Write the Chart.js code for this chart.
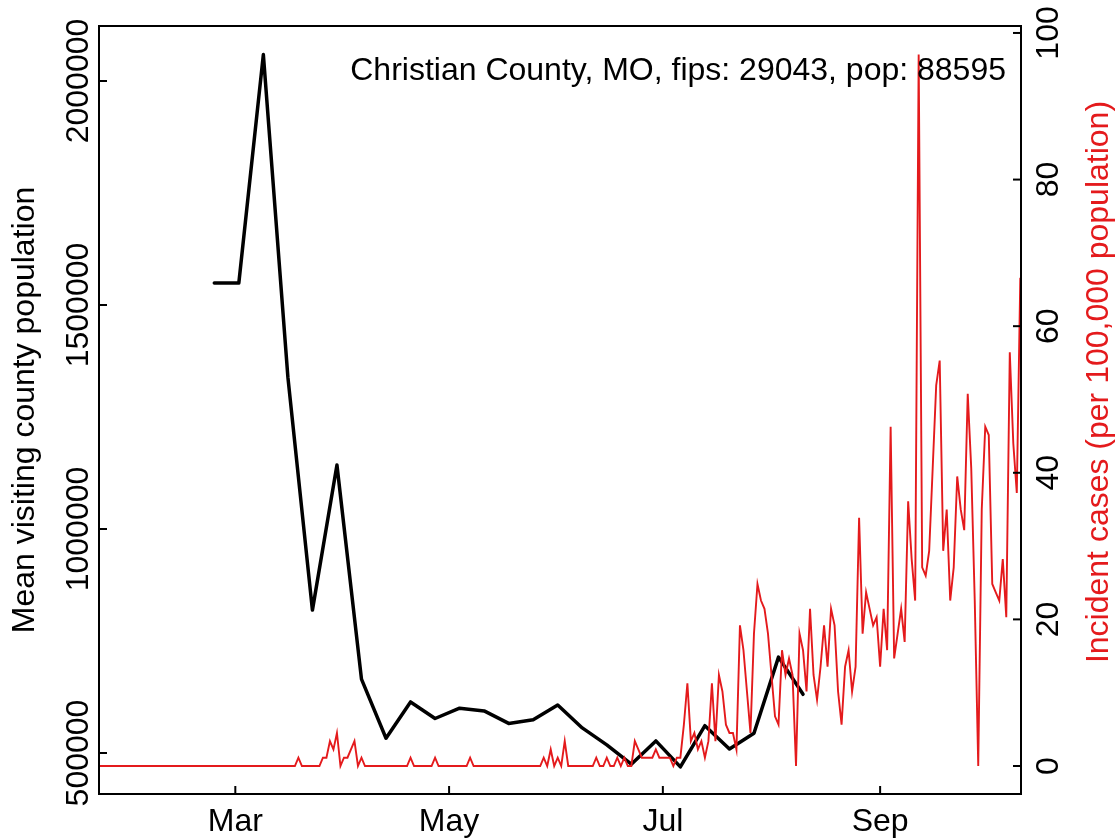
<!DOCTYPE html>
<html>
<head>
<meta charset="utf-8">
<script src="https://cdn.jsdelivr.net/npm/chart.js@4/dist/chart.umd.min.js"></script>
<style>
  html, body { margin: 0; padding: 0; background: #fff; }
  canvas { display: block; }
</style>
</head>
<body>
<canvas id="myChart" width="1118" height="840"></canvas>
<script>
// days are counted from 1 March 2020 (day 0)
var visitDays = [-6, 1, 8, 15, 22, 29, 36, 43, 50, 57, 64, 71, 78, 85, 92, 99, 106, 113, 120, 127, 134, 141, 148, 155, 162];
var visitPop = [1549000, 1549000, 2059000, 1339000, 819000, 1143000, 665000, 533000, 614000, 577000,
                600000, 594000, 566000, 574000, 607000, 556000, 518000, 475000, 527000, 469000,
                561000, 509000, 544000, 714000, 631000];

var caseFirstDay = -39;
var caseRate = [
  0,0,0,0,0,0,0,0,0,0, 0,0,0,0,0,0,0,0,0,0, 0,0,0,0,0,0,0,0,0,0,
  0,0,0,0,0,0,0,0,0,0, 0,0,0,0,0,0,0,0,0,0, 0,0,0,0,0,0,0,
  1.13, 0,0,0,0,0,0, 1.13,1.13,3.39,2.26,4.51,0,1.13,1.13,2.26,3.39,0,1.13,
  0,0,0,0,0,0,0,0,0,0,0,0,0, 1.13, 0,0,0,0,0,0, 1.13, 0,0,0,0,0,0,0,0,0, 1.13,
  0,0,0,0,0,0,0,0,0,0, 0,0,0,0,0,0,0,0,0,0, 1.13,0,2.26,0,1.13,0,3.39,
  0,0,0,0,0,0,0,0, 1.13,0,0,1.13,0,0,1.13,0,1.13,0,0,3.39,
  2.26,1.13,1.13,1.13,1.13,2.26,1.13,1.13,1.13,1.13,0,1.13,1.13,
  5.64,11.29,3.39,4.51,2.26,3.39,1.13,3.39,11.29,3.39,
  12.42,10.16,5.64,4.51,4.51,2.26,19.19,15.8,10.16,4.51,
  18.06,24.83,22.57,21.44,18.06,12.42,6.77,5.64,15.8,12.42,
  14.67,12.42,0,18.06,15.8,10.16,21.44,12.42,9.03,13.54,
  19.19,13.54,21.44,19.19,10.16,5.64,13.54,15.8,
  10.16,13.54,33.86,18.06,23.7,21.44,19.19,20.31,13.54,21.44,
  15.8,46.28,14.67,18.06,21.44,16.93,36.12,28.22,22.57,97.07,
  27.09,25.96,29.35,40.63,51.92,55.31,29.35,34.99,22.57,27.09,
  39.5,35.0,32.17,50.79,40.63,22.57,0,34.99,46.28,45.15,
  24.83,23.7,22.57,28.22,20.31,56.44,44.02,37.25,66.59
];

var monthDays = [0, 61, 122, 184];
var monthLabels = ["Mar", "May", "Jul", "Sep"];
var popTicks = [500000, 1000000, 1500000, 2000000];
var caseTicks = [0, 20, 40, 60, 80, 100];
var titleText = "Christian County, MO, fips: 29043, pop: 88595";

var RED = "#e41a1c";
var FONT = "32px 'Liberation Sans', Arial, sans-serif";

var visitPoints = visitDays.map(function (d, i) { return { x: d, y: visitPop[i] }; });
var casePoints = caseRate.map(function (v, i) { return { x: caseFirstDay + i, y: v }; });

function seg(ctx, x1, y1, x2, y2) {
  ctx.beginPath();
  ctx.moveTo(x1, y1);
  ctx.lineTo(x2, y2);
  ctx.stroke();
}

function upText(ctx, text, x, y, color) {
  ctx.save();
  ctx.translate(x, y);
  ctx.rotate(-Math.PI / 2);
  ctx.fillStyle = color || "#000";
  ctx.textAlign = "center";
  ctx.textBaseline = "alphabetic";
  ctx.fillText(text, 0, 0);
  ctx.restore();
}

// base-R style frame, inward ticks and labels
var rFrame = {
  id: "rFrame",
  afterDatasetsDraw: function (chart) {
    var ctx = chart.ctx, a = chart.chartArea, s = chart.scales;
    var tick = 8;
    ctx.save();
    ctx.strokeStyle = "#000";
    ctx.lineWidth = 2;
    ctx.strokeRect(a.left, a.top, a.right - a.left, a.bottom - a.top);
    ctx.font = FONT;

    popTicks.forEach(function (v) {
      var y = s.y.getPixelForValue(v);
      seg(ctx, a.left, y, a.left + tick, y);
      upText(ctx, String(v), a.left - 11, y);
    });
    caseTicks.forEach(function (v) {
      var y = s.y2.getPixelForValue(v);
      seg(ctx, a.right - tick, y, a.right, y);
      upText(ctx, String(v), a.right + 37, y);
    });
    ctx.fillStyle = "#000";
    ctx.textAlign = "center";
    ctx.textBaseline = "alphabetic";
    monthDays.forEach(function (d, i) {
      var x = s.x.getPixelForValue(d);
      seg(ctx, x, a.bottom, x, a.bottom - tick);
      ctx.fillText(monthLabels[i], x, a.bottom + 37);
    });

    upText(ctx, "Mean visiting county population", a.left - 65.5, (a.top + a.bottom) / 2);
    upText(ctx, "Incident cases (per 100,000 population)", a.right + 87, a.top + 356, RED);

    ctx.textAlign = "right";
    ctx.fillText(titleText, a.right - 15, a.top + 54);
    ctx.restore();
  }
};

var ctx = document.getElementById("myChart");
var myChart = new Chart(ctx, {
  type: "line",
  data: {
    datasets: [{
      label: "Incident cases",
      data: casePoints,
      yAxisID: "y2",
      borderColor: RED,
      borderWidth: 1.9,
      pointRadius: 0,
      tension: 0,
      order: 0
    }, {
      label: "Mean visiting county population",
      data: visitPoints,
      yAxisID: "y",
      borderColor: "#000",
      borderWidth: 3.5,
      borderCapStyle: "round",
      borderJoinStyle: "round",
      pointRadius: 0,
      tension: 0,
      order: 1
    }]
  },
  options: {
    responsive: false,
    animation: false,
    devicePixelRatio: 1,
    layout: { padding: { left: 99, right: 97, top: 26, bottom: 46 } },
    plugins: { legend: { display: false }, title: { display: false }, tooltip: { enabled: false } },
    scales: {
      x: { type: "linear", min: -38.9, max: 224.2, display: false },
      y: { type: "linear", min: 408482, max: 2122768, display: false },
      y2: { type: "linear", position: "right", min: -3.82, max: 100.95, display: false }
    }
  },
  plugins: [rFrame]
});
</script>
</body>
</html>
